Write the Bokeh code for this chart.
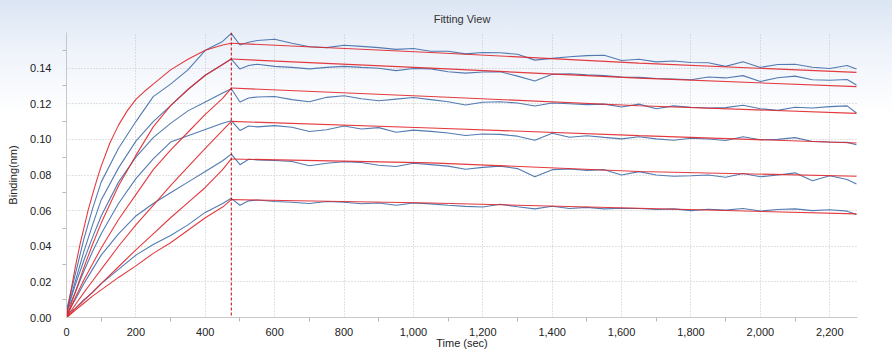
from bokeh.plotting import figure
from bokeh.models import Span, FixedTicker, NumeralTickFormatter, Range1d
from bokeh.embed import file_html
from bokeh.resources import INLINE

# ---------------- data ----------------
assoc_end = 475  # end of association step (sec)
chart_title = "Fitting View"

t_assoc = [0, 25, 50, 75, 100, 150, 200, 250, 300, 350, 400, 450, 475]
t_fit1_assoc = [0, 10, 25, 40, 50, 62, 75, 87, 100, 125, 150, 175, 200, 225, 250, 300, 350, 400, 450, 475]
t_dissoc = [475, 500, 525, 550, 600, 650, 700, 750, 800, 850, 900, 950, 1000, 1050,
            1100, 1150, 1200, 1250, 1300, 1350, 1400, 1450, 1500, 1550, 1600, 1650,
            1700, 1750, 1800, 1850, 1900, 1950, 2000, 2050, 2100, 2150, 2200, 2250, 2277]
t_fit_dissoc = [475, 1050, 1650, 2277]

# measured (blue) association
b1_assoc = [0.004, 0.024, 0.044, 0.061, 0.076, 0.095, 0.110, 0.124, 0.131, 0.139, 0.150, 0.155, 0.1595]
b2_assoc = [0.003, 0.020, 0.037, 0.052, 0.066, 0.084, 0.099, 0.110, 0.119, 0.128, 0.136, 0.142, 0.1451]
b3_assoc = [0.003, 0.018, 0.032, 0.045, 0.057, 0.076, 0.090, 0.101, 0.109, 0.116, 0.121, 0.126, 0.1284]
b4_assoc = [0.003, 0.014, 0.026, 0.037, 0.047, 0.064, 0.078, 0.089, 0.0985, 0.102, 0.1055, 0.109, 0.1105]
b5_assoc = [0.002, 0.010, 0.019, 0.027, 0.035, 0.047, 0.057, 0.064, 0.070, 0.076, 0.082, 0.088, 0.0917]
b6_assoc = [0.002, 0.005, 0.010, 0.014, 0.019, 0.027, 0.035, 0.041, 0.046, 0.052, 0.059, 0.064, 0.0669]

# measured (blue) dissociation
b1_dissoc = [0.1595, 0.1530, 0.1545, 0.1555, 0.1562, 0.1540, 0.1520, 0.1515, 0.1528, 0.1522,
             0.1515, 0.1505, 0.1510, 0.1495, 0.1495, 0.1480, 0.1488, 0.1486, 0.1478, 0.1445,
             0.1455, 0.1464, 0.1470, 0.1472, 0.1443, 0.1450, 0.1435, 0.1440, 0.1432, 0.1430,
             0.1410, 0.1436, 0.1404, 0.1420, 0.1422, 0.1405, 0.1398, 0.1415, 0.1395]
b2_dissoc = [0.1451, 0.1395, 0.1415, 0.1422, 0.1410, 0.1404, 0.1396, 0.1404, 0.1410, 0.1404,
             0.1399, 0.1386, 0.1398, 0.1396, 0.1380, 0.1372, 0.1378, 0.1380, 0.1355, 0.1328,
             0.1365, 0.1368, 0.1362, 0.1358, 0.1350, 0.1348, 0.1342, 0.1339, 0.1335, 0.1350,
             0.1345, 0.1358, 0.1325, 0.1346, 0.1355, 0.1335, 0.1332, 0.1336, 0.1305]
b3_dissoc = [0.1284, 0.1210, 0.1232, 0.1238, 0.1241, 0.1223, 0.1211, 0.1236, 0.1245, 0.1228,
             0.1217, 0.1226, 0.1235, 0.1223, 0.1211, 0.1193, 0.1208, 0.1211, 0.1204, 0.1187,
             0.1204, 0.1200, 0.1195, 0.1198, 0.1182, 0.1198, 0.1172, 0.1188, 0.1180, 0.1176,
             0.1178, 0.1192, 0.1172, 0.1163, 0.1180, 0.1176, 0.1184, 0.1188, 0.1148]
b4_dissoc = [0.1105, 0.1050, 0.1075, 0.1070, 0.1077, 0.1068, 0.1044, 0.1054, 0.1075, 0.1058,
             0.1066, 0.1040, 0.1052, 0.1045, 0.1036, 0.1022, 0.1030, 0.1028, 0.1018, 0.0995,
             0.1034, 0.1012, 0.1020, 0.1011, 0.1003, 0.1015, 0.1003, 0.0995, 0.1006, 0.1002,
             0.0994, 0.1015, 0.0998, 0.1000, 0.1010, 0.0988, 0.0985, 0.0983, 0.0970]
b5_dissoc = [0.0917, 0.0858, 0.0888, 0.0885, 0.0881, 0.0876, 0.0852, 0.0866, 0.0874, 0.0870,
             0.0855, 0.0848, 0.0866, 0.0858, 0.0850, 0.0832, 0.0843, 0.0850, 0.0836, 0.0790,
             0.0830, 0.0834, 0.0826, 0.0830, 0.0800, 0.0819, 0.0800, 0.0793, 0.0796, 0.0800,
             0.0787, 0.0808, 0.0790, 0.0800, 0.0812, 0.0768, 0.0796, 0.0775, 0.0750]
b6_dissoc = [0.0669, 0.0630, 0.0655, 0.0660, 0.0651, 0.0647, 0.0640, 0.0651, 0.0647, 0.0639,
             0.0643, 0.0630, 0.0643, 0.0638, 0.0630, 0.0624, 0.0620, 0.0636, 0.0622, 0.0610,
             0.0625, 0.0612, 0.0618, 0.0610, 0.0613, 0.0612, 0.0606, 0.0610, 0.0600, 0.0608,
             0.0603, 0.0612, 0.0598, 0.0606, 0.0610, 0.0600, 0.0605, 0.0597, 0.0578]

# fitted (red) association
r1_assoc = [0, 0.012, 0.028, 0.042, 0.050, 0.060, 0.069, 0.077, 0.085, 0.098, 0.108, 0.116,
            0.1225, 0.127, 0.131, 0.139, 0.145, 0.150, 0.153, 0.154]
r2_assoc = [0, 0.014, 0.028, 0.041, 0.053, 0.074, 0.091, 0.107, 0.119, 0.128, 0.136, 0.142, 0.1451]
r3_assoc = [0, 0.011, 0.021, 0.030, 0.039, 0.055, 0.069, 0.083, 0.094, 0.104, 0.114, 0.123, 0.1288]
r4_assoc = [0, 0.007, 0.014, 0.0205, 0.027, 0.040, 0.052, 0.063, 0.074, 0.0845, 0.095, 0.105, 0.1101]
r5_assoc = [0, 0.0048, 0.0095, 0.0143, 0.019, 0.0285, 0.038, 0.047, 0.056, 0.0645, 0.073, 0.083, 0.089]
r6_assoc = [0, 0.004, 0.008, 0.012, 0.0155, 0.0225, 0.029, 0.036, 0.042, 0.049, 0.056, 0.062, 0.0662]

# fitted (red) dissociation
r1_dissoc = [0.154, 0.1488, 0.1428, 0.1376]
r2_dissoc = [0.1451, 0.1400, 0.1344, 0.1296]
r3_dissoc = [0.1288, 0.1241, 0.1189, 0.1146]
r4_dissoc = [0.1101, 0.1064, 0.1021, 0.0980]
r5_dissoc = [0.0890, 0.0868, 0.0820, 0.0793]
r6_dissoc = [0.0662, 0.0643, 0.0613, 0.0582]

x_ticks = [0, 200, 400, 600, 800, 1000, 1200, 1400, 1600, 1800, 2000, 2200]
x_minor = [100, 300, 500, 700, 900, 1100, 1300, 1500, 1700, 1900, 2100]
y_ticks = [0.0, 0.02, 0.04, 0.06, 0.08, 0.10, 0.12, 0.14]
y_minor = [0.01, 0.03, 0.05, 0.07, 0.09, 0.11, 0.13, 0.15]

# ---------------- figure ----------------
FONT = "Liberation Sans"
BLUE = "#4a74ad"
RED = "#e0262b"

p = figure(width=892, height=353, output_backend="svg", toolbar_location=None,
           x_range=Range1d(0, 2280), y_range=Range1d(0, 0.16),
           title=chart_title,
           min_border_left=66, min_border_right=35, min_border_top=32, min_border_bottom=36)

p.styles = {"background": "linear-gradient(to bottom, #dbe5f3 0px, #edf2fa 45px, #ffffff 115px)"}
p.background_fill_alpha = 0
p.border_fill_alpha = 0
p.outline_line_color = None

p.title.align = "center"
p.title.vertical_align = "top"
p.title.text_font = FONT
p.title.text_font_size = "11px"
p.title.text_font_style = "normal"
p.title.text_color = "#333333"
p.title.standoff = 12

blue_assoc = [b1_assoc, b2_assoc, b3_assoc, b4_assoc, b5_assoc, b6_assoc]
blue_dissoc = [b1_dissoc, b2_dissoc, b3_dissoc, b4_dissoc, b5_dissoc, b6_dissoc]
red_assoc = [r1_assoc, r2_assoc, r3_assoc, r4_assoc, r5_assoc, r6_assoc]
red_assoc_t = [t_fit1_assoc] + [t_assoc] * 5
red_dissoc = [r1_dissoc, r2_dissoc, r3_dissoc, r4_dissoc, r5_dissoc, r6_dissoc]

for ba, bd in zip(blue_assoc, blue_dissoc):
    p.line(t_assoc[:-1] + t_dissoc, ba[:-1] + bd, line_color=BLUE, line_width=1.1, line_alpha=0.95)

for ta, ra, rd in zip(red_assoc_t, red_assoc, red_dissoc):
    p.line(ta, ra, line_color=RED, line_width=1.1, line_alpha=0.9)
    p.line(t_fit_dissoc, rd, line_color=RED, line_width=1.1, line_alpha=0.9)

p.add_layout(Span(location=assoc_end, dimension="height", line_color="#c00000",
                  line_dash="3 2", line_width=1))

# axes
for ax in (p.xaxis[0], p.yaxis[0]):
    ax.axis_line_color = "#c8c8c8"
    ax.major_tick_line_color = "#c8c8c8"
    ax.minor_tick_line_color = "#b8b8b8"
    ax.major_tick_out = 0
    ax.major_tick_in = 0
    ax.minor_tick_out = 4
    ax.minor_tick_in = 0
    ax.major_label_text_font = FONT
    ax.major_label_text_font_size = "11px"
    ax.major_label_text_color = "#222222"
    ax.axis_label_text_font = FONT
    ax.axis_label_text_font_size = "11px"
    ax.axis_label_text_font_style = "normal"
    ax.axis_label_text_color = "#222222"

p.xaxis.ticker = FixedTicker(ticks=x_ticks, minor_ticks=x_minor)
p.yaxis.ticker = FixedTicker(ticks=y_ticks, minor_ticks=y_minor)
p.xaxis.formatter = NumeralTickFormatter(format="0,0")
p.yaxis.formatter = NumeralTickFormatter(format="0.00")
p.xaxis.axis_label = "Time (sec)"
p.yaxis.axis_label = "Binding(nm)"
p.xaxis.major_label_standoff = 6
p.xaxis.axis_label_standoff = -2
p.yaxis.major_label_standoff = 11
p.yaxis.axis_label_standoff = 8

p.xgrid.grid_line_color = "#c4c4c4"
p.ygrid.grid_line_color = "#c4c4c4"
p.xgrid.grid_line_dash = "1 2"
p.ygrid.grid_line_dash = "1 2"

open("out.html", "w").write(file_html(p, INLINE))
